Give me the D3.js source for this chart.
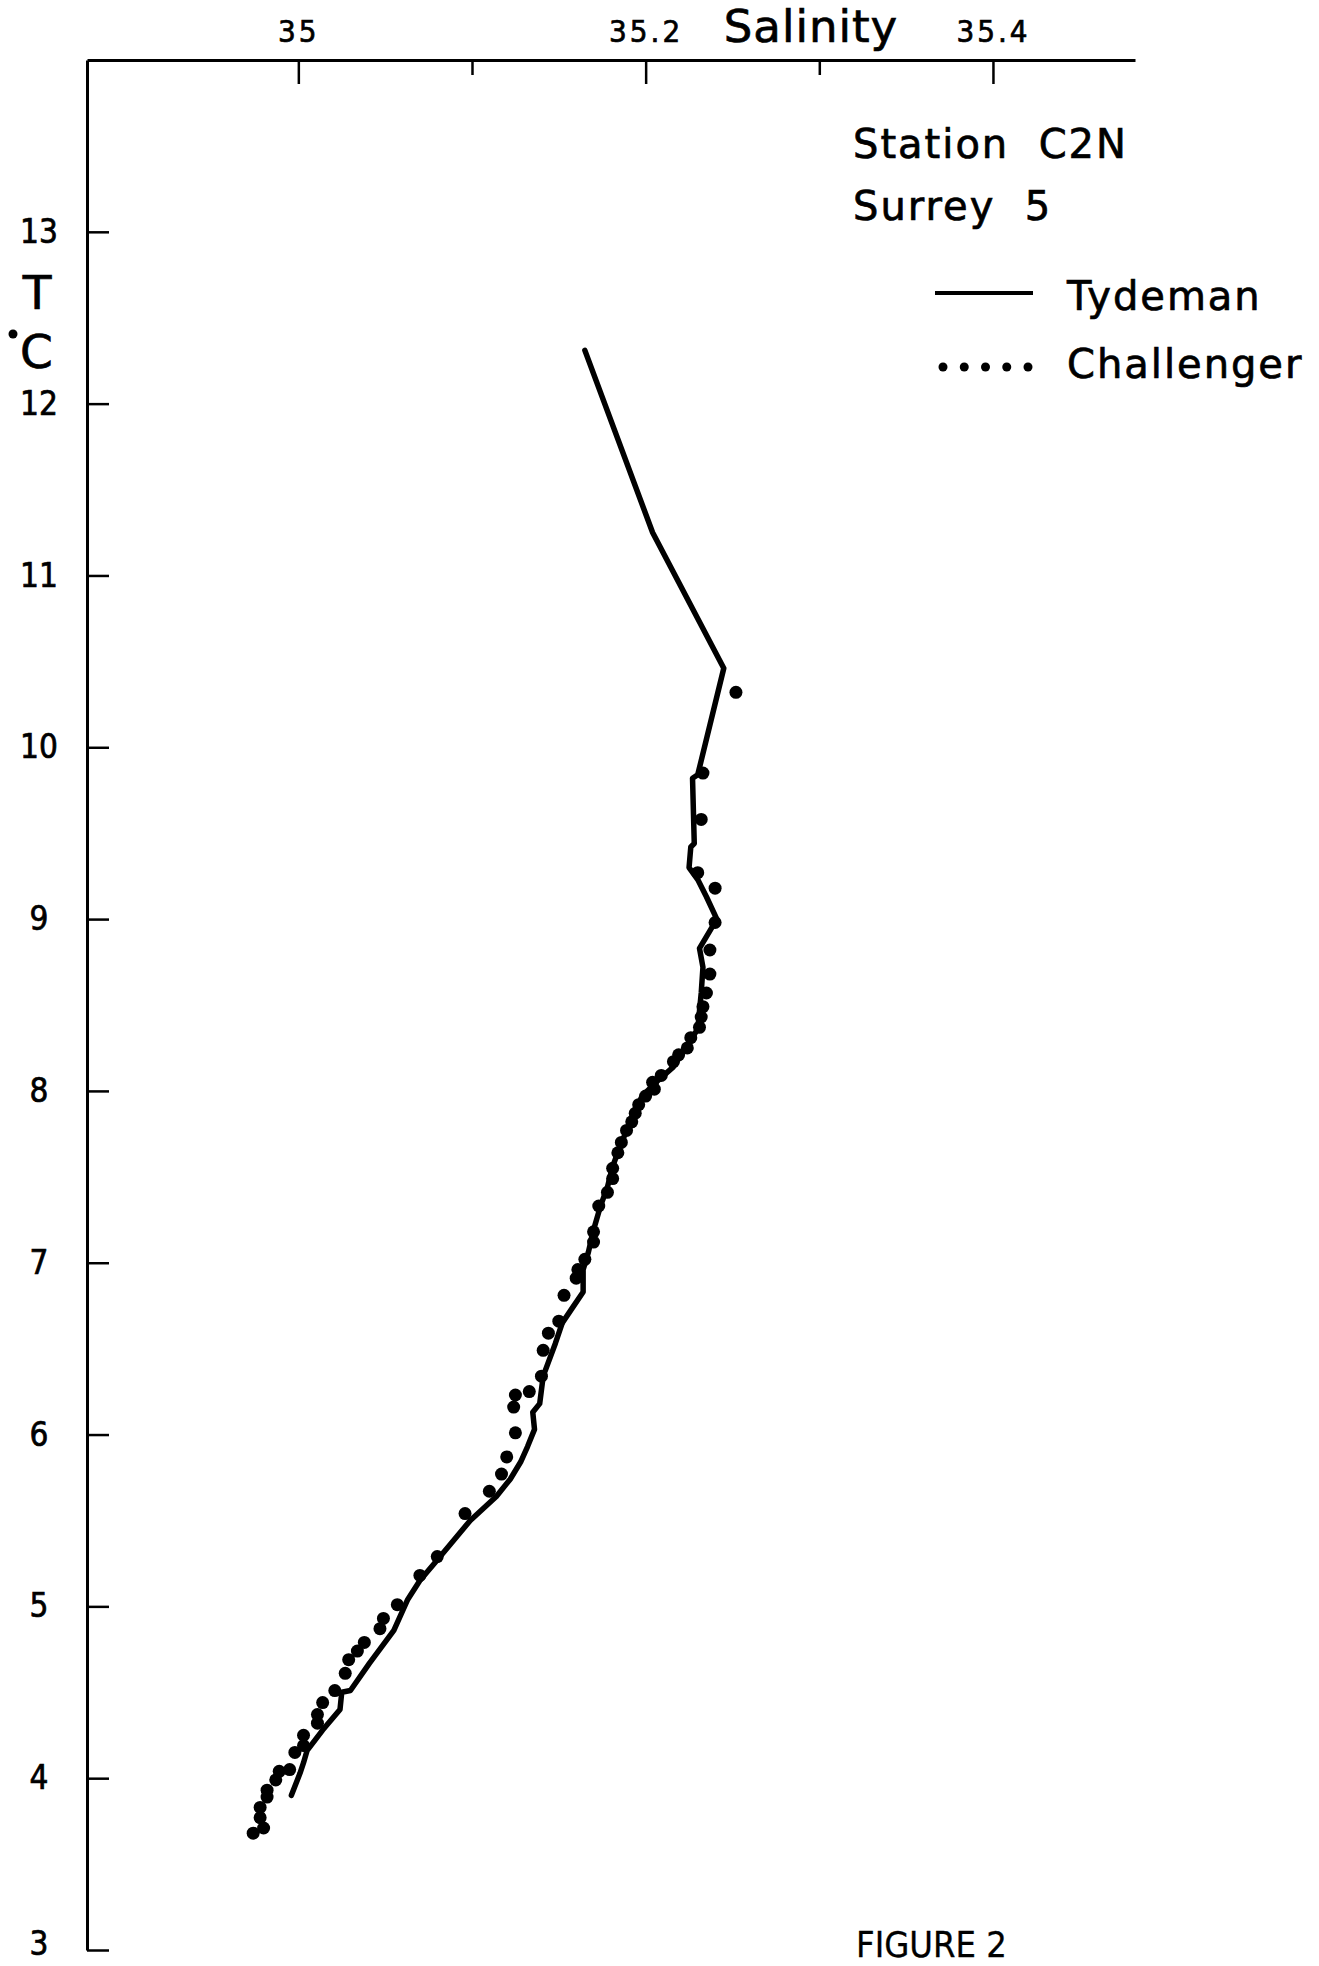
<!DOCTYPE html>
<html>
<head>
<meta charset="utf-8">
<script src="https://cdn.jsdelivr.net/npm/d3@7"></script>
<style>
  body { margin: 0; background: #fff; }
  svg { display: block; font-family: "DejaVu Sans", sans-serif; }
  svg text { stroke: #000; stroke-width: 0.7px; fill: #000; }
</style>
</head>
<body>
<div id="chart"></div>
<script>
// Tydeman profile (solid line)
const tydemanSal = [35.165, 35.204, 35.245, 35.230, 35.227, 35.228, 35.226, 35.225, 35.230, 35.235,
  35.241, 35.231, 35.233, 35.232, 35.230, 35.216, 35.207, 35.198, 35.193, 35.189,
  35.185, 35.181, 35.178, 35.174, 35.170, 35.167, 35.164, 35.164, 35.158, 35.152,
  35.148, 35.141, 35.139, 35.135, 35.136, 35.132, 35.128, 35.122, 35.114, 35.099,
  35.080, 35.070, 35.063, 35.055, 35.041, 35.030, 35.025, 35.024, 35.014, 35.005,
  35.003, 35.001, 34.996];
const tydemanTemp = [12.31, 11.25, 10.46, 9.84, 9.82, 9.44, 9.42, 9.30, 9.23, 9.13,
  9.00, 8.83, 8.72, 8.57, 8.36, 8.14, 8.06, 7.97, 7.87, 7.77,
  7.67, 7.56, 7.44, 7.33, 7.19, 7.06, 6.96, 6.83, 6.74, 6.65,
  6.53, 6.34, 6.18, 6.13, 6.03, 5.93, 5.84, 5.74, 5.64, 5.50,
  5.27, 5.15, 5.04, 4.86, 4.67, 4.51, 4.50, 4.40, 4.28, 4.16,
  4.09, 4.03, 3.90];

// Challenger samples (dots)
const challengerSal = [35.252, 35.233, 35.232, 35.230, 35.240, 35.240, 35.237, 35.237, 35.235, 35.233,
  35.232, 35.231, 35.226, 35.224, 35.219, 35.216, 35.209, 35.204, 35.205, 35.200,
  35.196, 35.194, 35.192, 35.189, 35.186, 35.184, 35.181, 35.181, 35.178, 35.173,
  35.170, 35.170, 35.165, 35.161, 35.160, 35.153, 35.150, 35.144, 35.141, 35.140,
  35.133, 35.125, 35.124, 35.125, 35.120, 35.117, 35.110, 35.096, 35.080, 35.070,
  35.057, 35.049, 35.047, 35.038, 35.034, 35.029, 35.027, 35.021, 35.014, 35.011,
  35.011, 35.003, 35.003, 34.998, 34.995, 34.989, 34.987, 34.982, 34.982, 34.978,
  34.978, 34.980, 34.974];
const challengerTemp = [10.32, 9.85, 9.58, 9.27, 9.18, 8.98, 8.82, 8.68, 8.57, 8.49,
  8.43, 8.37, 8.31, 8.25, 8.21, 8.17, 8.09, 8.05, 8.01, 7.97,
  7.92, 7.87, 7.82, 7.77, 7.70, 7.64, 7.55, 7.49, 7.41, 7.33,
  7.18, 7.12, 7.02, 6.96, 6.91, 6.81, 6.66, 6.59, 6.49, 6.34,
  6.25, 6.23, 6.16, 6.01, 5.87, 5.77, 5.67, 5.54, 5.29, 5.18,
  5.01, 4.93, 4.87, 4.79, 4.74, 4.69, 4.61, 4.51, 4.44, 4.37,
  4.32, 4.25, 4.19, 4.15, 4.05, 4.04, 3.99, 3.93, 3.89, 3.83,
  3.77, 3.71, 3.68];

const salTicks = [35, 35.1, 35.2, 35.3, 35.4];
const salLabels = ['35', '', '35.2', '', '35.4'];
const tempTicks = [3, 4, 5, 6, 7, 8, 9, 10, 11, 12, 13];
const infoLines = ['Station  C2N', 'Surrey  5'];
const seriesNames = ['Tydeman', 'Challenger'];

const width = 1319;
const height = 1966;

const svg = d3.select('#chart').append('svg')
  .attr('width', width)
  .attr('height', height);

svg.append('rect').attr('width', width).attr('height', height).attr('fill', '#fff');

const x = d3.scaleLinear().domain([34.8783, 35.4818]).range([87, 1135]);
const y = d3.scaleLinear().domain([3, 14]).range([1950, 60]);

// salinity axis along the top, ticks pointing down into the plot
const xAxis = d3.axisTop(x)
  .tickValues(salTicks)
  .tickSizeInner(-24)
  .tickSizeOuter(0)
  .tickPadding(18)
  .tickFormat((d, i) => salLabels[i]);

const gx = svg.append('g')
  .attr('transform', `translate(0,${y(14)})`)
  .call(xAxis);

gx.select('.domain').attr('stroke-width', 3);
gx.selectAll('.tick line')
  .attr('stroke-width', 2.5)
  .attr('y2', (d, i) => salLabels[i] ? 24 : 15);
gx.selectAll('.tick text')
  .attr('font-family', '"DejaVu Sans Condensed", "DejaVu Sans", sans-serif')
  .attr('font-size', 31)
  .attr('letter-spacing', 3)
  .attr('fill', '#000');

// temperature axis on the left, ticks pointing right
const yAxis = d3.axisLeft(y)
  .tickValues(tempTicks)
  .tickSizeInner(-22)
  .tickSizeOuter(0)
  .tickFormat(d3.format('d'));

const gy = svg.append('g')
  .attr('transform', `translate(${x.range()[0]},0)`)
  .call(yAxis);

gy.select('.domain').attr('stroke-width', 3);
gy.selectAll('.tick line').attr('stroke-width', 2.5);
gy.selectAll('.tick text')
  .attr('x', -48)
  .attr('y', d => d === 3 ? -6 : 0)
  .attr('text-anchor', 'middle')
  .attr('font-family', '"DejaVu Sans Condensed", "DejaVu Sans", sans-serif')
  .attr('font-size', 33)
  .attr('fill', '#000');

// axis titles
svg.append('text')
  .attr('x', 811).attr('y', 42)
  .attr('text-anchor', 'middle')
  .attr('font-size', 45)
  .attr('letter-spacing', 1)
  .text('Salinity');

svg.append('text')
  .attr('x', 37).attr('y', 309)
  .attr('text-anchor', 'middle')
  .attr('font-size', 47)
  .text('T');

// degree mark drawn as the filled dot used in the original
svg.append('circle')
  .attr('cx', 13).attr('cy', 334).attr('r', 4.5)
  .attr('fill', '#000');

svg.append('text')
  .attr('x', 20).attr('y', 368)
  .attr('font-size', 47)
  .text('C');

// Tydeman line
const tydeman = tydemanSal.map((s, i) => ({ s, t: tydemanTemp[i] }));
const line = d3.line().x(d => x(d.s)).y(d => y(d.t));

svg.append('path')
  .datum(tydeman)
  .attr('fill', 'none')
  .attr('stroke', '#000')
  .attr('stroke-width', 5.5)
  .attr('stroke-linejoin', 'round')
  .attr('stroke-linecap', 'round')
  .attr('d', line);

// Challenger dots
const challenger = challengerSal.map((s, i) => ({ s, t: challengerTemp[i] }));
svg.append('g')
  .selectAll('circle')
  .data(challenger)
  .enter().append('circle')
  .attr('cx', d => x(d.s))
  .attr('cy', d => y(d.t))
  .attr('r', 6.5)
  .attr('fill', '#000');

// station info + legend
const info = svg.append('g').attr('font-size', 40).attr('letter-spacing', 2);
info.selectAll('text.info')
  .data(infoLines)
  .enter().append('text')
  .attr('class', 'info')
  .attr('x', 853)
  .attr('y', (d, i) => 158 + i * 62)
  .attr('xml:space', 'preserve')
  .style('white-space', 'pre')
  .text(d => d);

info.append('line')
  .attr('x1', 935).attr('x2', 1033)
  .attr('y1', 293).attr('y2', 293)
  .attr('stroke', '#000').attr('stroke-width', 4);

info.selectAll('circle.leg')
  .data(d3.range(5))
  .enter().append('circle')
  .attr('class', 'leg')
  .attr('cx', d => 943 + d * 21.25)
  .attr('cy', 367)
  .attr('r', 4.5)
  .attr('fill', '#000');

info.selectAll('text.series')
  .data(seriesNames)
  .enter().append('text')
  .attr('class', 'series')
  .attr('x', 1067)
  .attr('y', (d, i) => 310 + i * 68)
  .text(d => d);

svg.append('text')
  .attr('x', 856).attr('y', 1957)
  .attr('font-family', '"DejaVu Sans Condensed", "DejaVu Sans", sans-serif')
  .attr('font-size', 36)
  .style('stroke-width', '0.3px')
  .text('FIGURE 2');
</script>
</body>
</html>
